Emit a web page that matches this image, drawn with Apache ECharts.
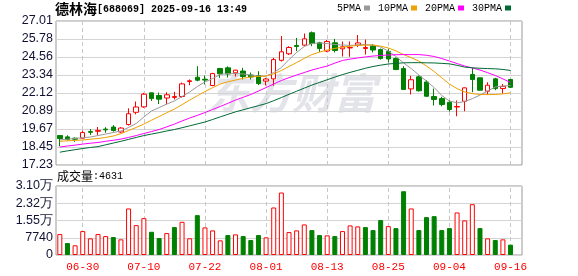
<!DOCTYPE html>
<html><head><meta charset="utf-8">
<script src="https://cdn.jsdelivr.net/npm/echarts@6/dist/echarts.min.js"></script>
<style>html,body{margin:0;padding:0;background:#fff}#c{width:578px;height:276px}</style>
</head><body><div id="c"></div>
<script>
const dates = ['06-25','06-26','06-27','06-30','07-01','07-02','07-03','07-04','07-07','07-08','07-09','07-10','07-11','07-14','07-15','07-16','07-17','07-18','07-21','07-22','07-23','07-24','07-25','07-28','07-29','07-30','07-31','08-01','08-04','08-05','08-06','08-07','08-08','08-11','08-12','08-13','08-14','08-15','08-18','08-19','08-20','08-21','08-22','08-25','08-26','08-27','08-28','08-29','09-01','09-02','09-03','09-04','09-05','09-08','09-09','09-10','09-11','09-12','09-15','09-16',''];
const labelIdx = [3,11,19,27,35,43,51,59];
// [open, close, low, high]
const candles = [
[19.23,19.03,18.50,19.25],[19.14,18.96,18.89,19.25],[19.05,18.98,18.80,19.10],[19.05,19.43,19.05,19.57],
[19.50,19.45,19.27,19.67],[19.52,19.58,19.27,19.81],[19.67,19.62,19.42,19.80],[19.81,19.57,19.50,19.94],
[19.47,19.74,19.42,19.80],[19.98,20.71,19.91,21.08],[20.81,21.17,20.67,21.54],[21.18,22.04,21.11,22.13],
[22.13,21.74,21.58,22.15],[21.95,21.70,21.37,22.15],[21.78,22.00,21.34,22.17],[21.82,21.88,21.68,22.20],
[21.88,22.74,21.81,22.83],[22.90,22.95,22.65,23.04],[23.19,22.99,22.92,23.94],[23.05,23.00,22.70,23.31],
[22.63,23.44,22.58,23.49],[23.78,23.42,23.15,23.83],[23.83,23.41,23.17,23.93],[23.49,23.67,23.24,23.70],
[23.61,23.24,23.04,23.83],[23.34,23.21,23.04,23.51],[23.31,22.76,22.66,23.60],[22.93,23.07,22.63,23.15],
[23.08,24.39,22.61,24.51],[24.34,24.92,24.26,25.99],[24.78,25.21,24.70,25.30],[25.35,25.28,24.96,25.86],
[25.37,25.80,25.30,26.16],[26.21,25.48,25.30,26.30],[25.53,25.14,24.90,25.60],[24.97,25.62,24.90,25.72],
[25.53,25.01,24.87,25.79],[25.12,25.26,24.60,25.62],[25.18,25.21,24.58,25.62],[25.37,25.52,25.24,26.06],
[25.14,25.21,24.73,25.75],[25.31,25.04,24.87,25.45],[25.07,24.46,24.39,25.14],[24.94,24.43,24.19,25.14],
[24.46,23.71,23.68,24.53],[23.78,22.36,22.36,23.94],[22.40,23.02,22.02,23.29],[23.22,22.27,22.22,23.31],
[22.87,21.90,21.86,22.99],[21.88,21.68,21.27,22.42],[21.74,21.34,21.22,21.86],[21.49,21.00,20.86,21.61],
[21.17,21.20,20.54,21.61],[21.56,22.47,20.88,22.50],[23.38,23.04,22.17,23.83],[23.15,22.31,22.28,23.17],
[22.24,22.65,22.02,22.85],[23.08,22.42,22.31,23.15],[22.42,22.57,22.09,22.73],[23.04,22.51,22.47,23.08]
];
const ma5 = [18.94,18.98,19.03,19.08,19.13,19.23,19.33,19.44,19.54,19.78,20.05,20.49,20.90,21.13,21.37,21.58,21.88,22.19,22.56,22.87,23.10,23.38,23.44,23.44,23.41,23.34,23.27,23.27,23.51,23.85,24.39,24.87,25.28,25.48,25.52,25.48,25.41,25.38,25.35,25.38,25.41,25.38,25.24,24.97,24.60,24.16,23.78,23.34,22.93,22.49,21.95,21.58,21.45,21.54,21.74,21.98,22.25,22.53,22.59,22.63];
const ma10 = [18.84,18.87,18.90,18.93,18.98,19.03,19.10,19.20,19.36,19.57,19.78,20.01,20.27,20.52,20.78,21.03,21.33,21.64,21.93,22.22,22.48,22.73,22.88,23.00,23.12,23.21,23.25,23.27,23.42,23.65,23.92,24.19,24.47,24.73,24.90,25.04,25.15,25.23,25.30,25.35,25.37,25.38,25.30,25.18,24.98,24.73,24.52,24.29,23.95,23.58,23.15,22.73,22.42,22.19,22.08,22.02,22.01,22.02,22.06,22.13];
const ma20 = [18.45,18.52,18.58,18.65,18.71,18.76,18.84,18.91,18.99,19.10,19.23,19.37,19.50,19.64,19.82,20.01,20.22,20.42,20.60,20.79,21.00,21.20,21.42,21.64,21.83,22.02,22.25,22.49,22.73,22.97,23.16,23.34,23.51,23.68,23.82,23.95,24.15,24.33,24.42,24.50,24.57,24.63,24.67,24.70,24.72,24.73,24.73,24.73,24.68,24.60,24.46,24.29,24.12,23.95,23.82,23.68,23.50,23.31,23.08,22.83];
const ma30 = [18.10,18.19,18.27,18.35,18.42,18.48,18.60,18.72,18.84,18.97,19.10,19.23,19.33,19.43,19.54,19.64,19.76,19.89,20.02,20.15,20.32,20.50,20.67,20.84,20.98,21.12,21.26,21.40,21.60,21.81,22.03,22.24,22.45,22.66,22.84,23.02,23.20,23.37,23.52,23.66,23.80,23.92,24.01,24.09,24.13,24.17,24.18,24.18,24.17,24.16,24.13,24.10,24.00,23.88,23.83,23.80,23.78,23.76,23.72,23.65];
const volumes = [9390,5360,4340,10730,7470,9390,8490,8050,7020,20880,13410,16540,10420,7600,9830,12520,14890,7500,17880,12380,11040,6570,8940,9250,8490,6710,8940,7910,21320,28030,10280,11040,13720,11180,8940,8810,8490,10730,13280,12830,12520,11180,15650,12960,12070,28610,20880,11180,16990,17430,11180,12070,19090,15510,22800,12070,7470,6710,7020,4631];
// 1 = up (red, hollow), -1 = down (green, filled)
const volDir = [1,-1,1,1,1,1,1,-1,1,1,1,1,-1,-1,1,-1,1,1,-1,1,1,1,-1,1,-1,-1,-1,1,1,1,1,1,1,-1,-1,1,-1,1,1,1,-1,-1,-1,1,-1,-1,1,-1,-1,-1,-1,-1,1,1,1,-1,1,-1,1,-1];
const priceTicks = ['17.23','18.45','19.67','20.89','22.12','23.34','24.56','25.78','27.01'];
const volTicks = ['0','7740','1.55万','2.32万','3.10万'];

const RED = '#ff0000', GREEN = '#008000';
const P_MIN = 17.23, P_MAX = 27.01, P_INT = 1.2225;
const V_MAX = 30960, V_INT = 7740;

const vLines = labelIdx.map(i => ({ xAxis: dates[i] }));
const markLineCfg = {
  silent: true, symbol: ['none','none'], label: { show: false },
  lineStyle: { type: [4,3], color: '#c8c8c8', width: 1 },
  data: vLines, animation: false, z: 0
};

const chart = echarts.init(document.getElementById('c'));
const option = {
  animation: false,
  backgroundColor: '#fff',
  title: {
    text: '{a|德林海}{b|[688069] 2025-09-16 13:49}',
    left: 55, top: 2, padding: 0,
    textStyle: { rich: {
      a: { fontFamily: 'Noto Sans CJK SC', fontSize: 14, color: '#000' },
      b: { fontFamily: 'Liberation Mono', fontSize: 10, color: '#000' }
    } }
  },
  legend: {
    right: 67, top: 3, padding: 0, align: 'right',
    icon: 'rect', itemWidth: 6, itemHeight: 5, itemGap: 8,
    textStyle: { fontFamily: 'Liberation Mono', fontSize: 10, color: '#000', padding: [0,-2,0,0] },
    data: ['5PMA','10PMA','20PMA','30PMA']
  },
  graphic: [
    { type: 'text', left: 208, top: 72, z: -10, silent: true,
      style: { text: '东方财富', fill: '#e3e3ea', font: 'italic bold 42px "Noto Sans CJK SC"' } },
    { type: 'text', left: 57, top: 170, silent: true,
      style: { rich: {
        a: { fontFamily: 'Noto Sans CJK SC', fontSize: 12, fill: '#000' },
        b: { fontFamily: 'Liberation Mono', fontSize: 10, fill: '#000' }
      }, text: '{a|成交量}{b|:' + volumes[volumes.length-1] + '}' } }
  ],
  grid: [
    { left: 56, right: 56, top: 21, height: 144, show: true, borderColor: '#999', borderWidth: 1 },
    { left: 56, right: 56, top: 186, height: 69, show: true, borderColor: '#999', borderWidth: 1 }
  ],
  xAxis: [
    { type: 'category', gridIndex: 0, data: dates, boundaryGap: true,
      axisLine: { show: false }, axisTick: { show: false }, axisLabel: { show: false }, splitLine: { show: false } },
    { type: 'category', gridIndex: 1, data: dates, boundaryGap: true,
      axisLine: { show: false }, axisTick: { show: false }, splitLine: { show: false },
      axisLabel: { interval: (i) => labelIdx.indexOf(i) >= 0, color: RED, fontFamily: 'Liberation Mono', fontSize: 11, margin: 7 } }
  ],
  yAxis: [
    { type: 'value', gridIndex: 0, min: P_MIN, max: P_MAX, interval: P_INT,
      axisLine: { show: false }, axisTick: { show: false },
      splitLine: { lineStyle: { color: '#d4d4d4', width: 1 } },
      axisLabel: { margin: 3, color: '#111133', fontFamily: 'Liberation Sans', fontSize: 12.5,
        formatter: (v) => priceTicks[Math.round((v - P_MIN) / P_INT)] } },
    { type: 'value', gridIndex: 1, min: 0, max: V_MAX, interval: V_INT,
      axisLine: { show: false }, axisTick: { show: false },
      splitLine: { lineStyle: { color: '#d4d4d4', width: 1 } },
      axisLabel: { margin: 3, color: '#111133', fontFamily: 'Liberation Sans', fontSize: 12.5,
        formatter: (v) => volTicks[Math.round(v / V_INT)] } }
  ],
  series: [
    { type: 'candlestick', name: 'K', xAxisIndex: 0, yAxisIndex: 0, data: candles, barWidth: 5,
      itemStyle: { color: '#ffffff', color0: GREEN, borderColor: RED, borderColor0: GREEN, borderWidth: 1 },
      markLine: markLineCfg },
    { type: 'line', name: '5PMA', data: ma5, showSymbol: false, symbol: 'none', color: '#999999', lineStyle: { width: 1, color: '#999999' } },
    { type: 'line', name: '10PMA', data: ma10, showSymbol: false, symbol: 'none', color: '#f0a000', lineStyle: { width: 1, color: '#f0a000' } },
    { type: 'line', name: '20PMA', data: ma20, showSymbol: false, symbol: 'none', color: '#ff00ff', lineStyle: { width: 1, color: '#ff00ff' } },
    { type: 'line', name: '30PMA', data: ma30, showSymbol: false, symbol: 'none', color: '#006a35', lineStyle: { width: 1, color: '#006a35' } },
    { type: 'bar', name: 'VOL', xAxisIndex: 1, yAxisIndex: 1, barWidth: 5,
      data: volumes.map((v, i) => ({ value: v, itemStyle: volDir[i] > 0
        ? { color: '#ffffff', borderColor: RED, borderWidth: 1 }
        : { color: GREEN, borderColor: GREEN, borderWidth: 1 } })),
      markLine: markLineCfg }
  ]
};
chart.setOption(option);
</script></body></html>
